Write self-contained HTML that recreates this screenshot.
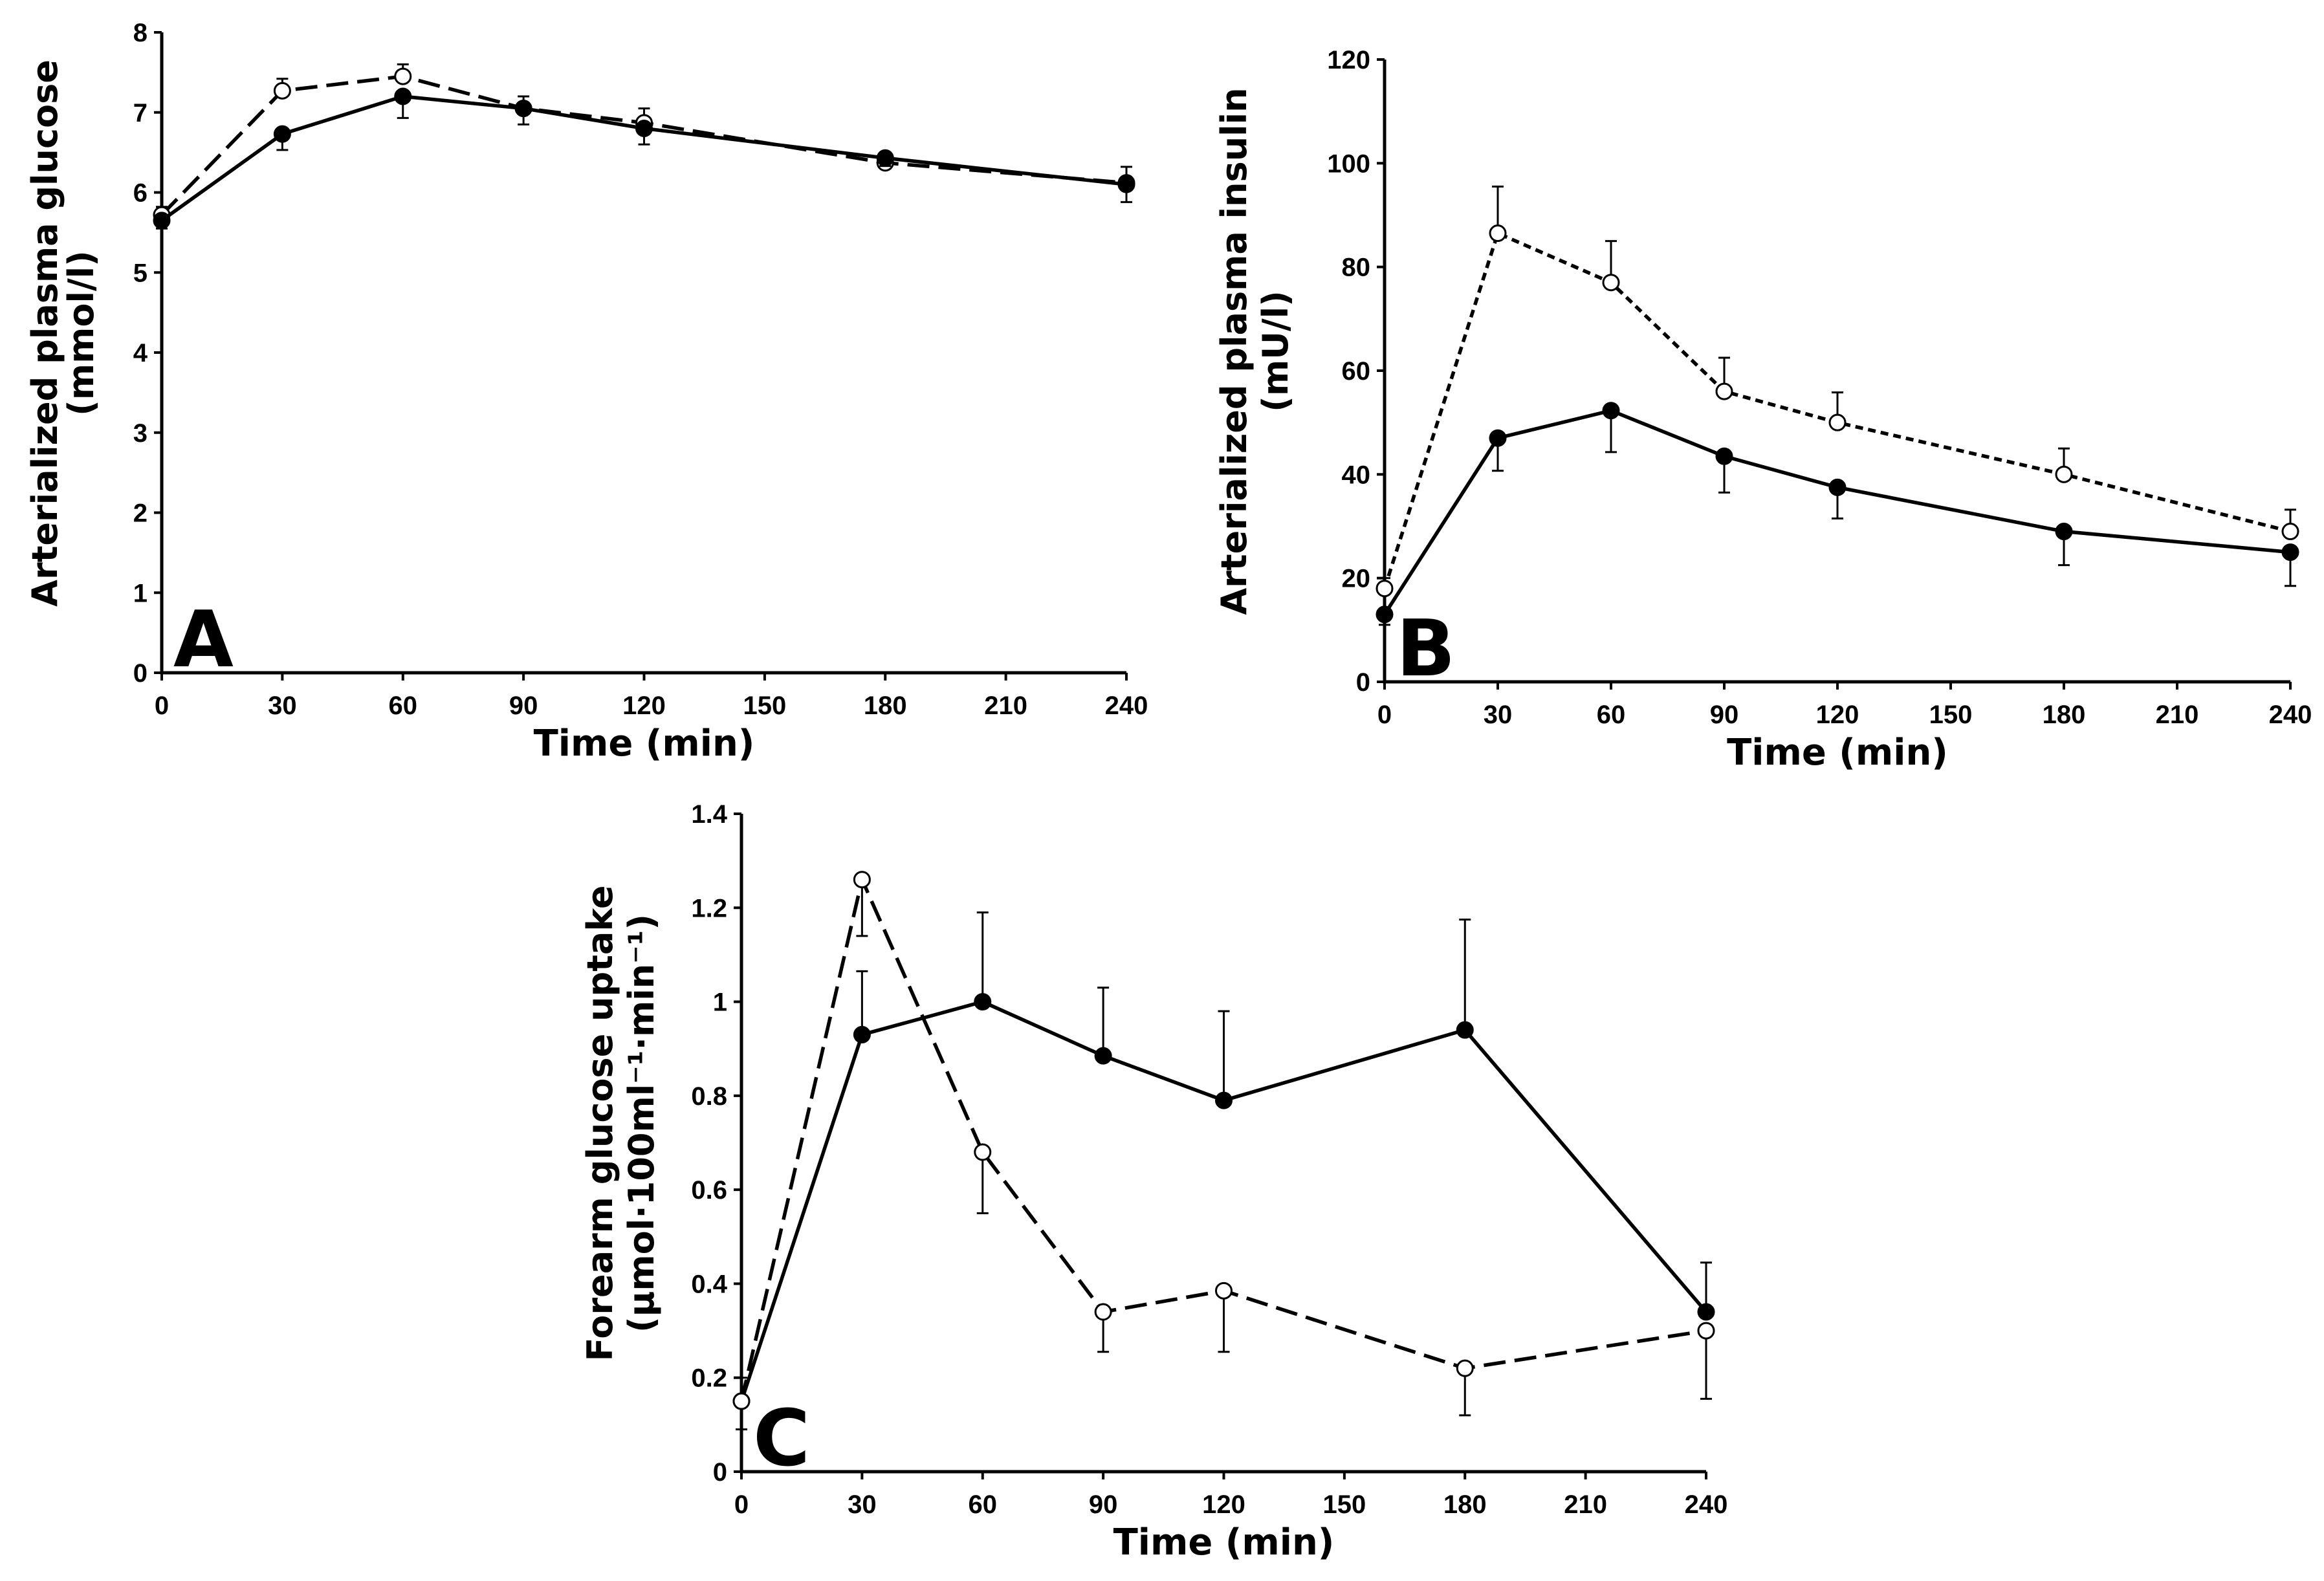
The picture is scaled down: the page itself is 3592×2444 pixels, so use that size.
<!DOCTYPE html>
<html><head><meta charset="utf-8"><style>
html,body{margin:0;padding:0;background:#fff;}
svg{display:block;}
text{font-family:"DejaVu Sans","Liberation Sans",sans-serif;font-weight:bold;fill:#000;}
.tick{font-family:"Liberation Sans",sans-serif;font-size:40px;}
</style></head><body>
<svg id="fig" width="3592" height="2444" viewBox="0 0 3592 2444" xmlns="http://www.w3.org/2000/svg"></svg>
<script>
const times=[0,30,60,90,120,180,240];
const xTicks=[0,30,60,90,120,150,180,210,240];
// Panel A
const aSolid=[5.65,6.73,7.2,7.05,6.8,6.43,6.1];
const aSolidErr=[0.1,0.2,0.27,0.2,0.2,0.1,0.22];
const aOpen=[5.72,7.27,7.45,7.05,6.87,6.37,6.12];
const aOpenErr=[0.1,0.15,0.15,0.15,0.18,0.1,0.2];
const aYTicks=[0,1,2,3,4,5,6,7,8];
// Panel B
const bSolid=[13,47,52.3,43.5,37.5,29,25];
const bSolidErr=[2,6.3,8,7,6,6.5,6.5];
const bOpen=[18,86.5,77,56,50,40,29];
const bOpenErr=[2,9,8,6.5,5.8,5,4.2];
const bYTicks=[0,20,40,60,80,100,120];
// Panel C
const cSolid=[0.15,0.93,1.0,0.885,0.79,0.94,0.34];
const cSolidErr=[0.05,0.135,0.19,0.145,0.19,0.235,0.105];
const cOpen=[0.15,1.26,0.68,0.34,0.385,0.22,0.30];
const cOpenErr=[0.06,0.12,0.13,0.085,0.13,0.1,0.145];
const cYTicks=[0,0.2,0.4,0.6,0.8,1,1.2,1.4];

const NS="http://www.w3.org/2000/svg";
const svg=document.getElementById('fig');
function mk(tag,attrs,parent){const e=document.createElementNS(NS,tag);for(const k in attrs)e.setAttribute(k,attrs[k]);(parent||svg).appendChild(e);return e;}

function panel(p){
  const g=mk('g',{});
  
  
  const X=v=>p.x0+(p.x1-p.x0)*v/240;
  const Y=v=>p.y0+(p.y1-p.y0)*v/p.ymax;
  const ax=mk('path',{d:`M${p.x0},${p.y1} V${p.y0} H${p.x1}`,stroke:'#000','stroke-width':5,fill:'none'},g);
  
  
  p.yt.forEach(v=>{
    mk('line',{x1:p.x0-12,x2:p.x0,y1:Y(v),y2:Y(v),stroke:'#000','stroke-width':4},g);
    const t=mk('text',{x:p.x0-22,y:Y(v)+14,'text-anchor':'end',class:'tick'},g);
    t.textContent=String(v);
    
    
  });
  xTicks.forEach(v=>{
    mk('line',{x1:X(v),x2:X(v),y1:p.y0,y2:p.y0+12,stroke:'#000','stroke-width':4},g);
    const t=mk('text',{x:X(v),y:p.y0+64,'text-anchor':'middle',class:'tick'},g);
    t.textContent=String(v);
    
    
  });
  const xt=mk('text',{x:(p.x0+p.x1)/2,y:p.y0+128,'text-anchor':'middle','font-size':56},g);
  xt.textContent='Time (min)';
  
  
  const cy=(p.y0+p.y1)/2-30;
  p.ytitle.forEach((s,i)=>{
    const lx=p.ylx[i];
    const t=mk('text',{x:lx,y:cy,'text-anchor':'middle','font-size':54,transform:`rotate(-90 ${lx} ${cy})`},g);
    t.textContent=s;
    
    
  });
  const L=mk('text',{x:p.x0+18,y:p.y0-10,'font-size':120,'font-family':'Liberation Sans'},g);
  L.textContent=p.letter;
  
  
  function series(vals,errs,dir,dash,fill,nm){
    errs.forEach((e,i)=>{
      const v=vals[i], ye=Y(v+dir*e);
      mk('line',{x1:X(times[i]),x2:X(times[i]),y1:Y(v),y2:ye,stroke:'#000','stroke-width':3},g);
      mk('line',{x1:X(times[i])-9,x2:X(times[i])+9,y1:ye,y2:ye,stroke:'#000','stroke-width':3},g);
    });
    const pl=mk('polyline',{points:vals.map((v,i)=>X(times[i])+','+Y(v)).join(' '),fill:'none',stroke:'#000','stroke-width':5.5,'stroke-dasharray':dash},g);
    
    
    vals.forEach((v,i)=>{
      const c=mk('circle',{cx:X(times[i]),cy:Y(v),r:12,fill:fill,stroke:'#000','stroke-width':3},g);
      
      
    });
  }
  if(p.openFirst){
    series(p.open,p.openErr,p.openDir,p.dash,'#fff','open-series');
    series(p.solid,p.solidErr,p.solidDir,'none','#000','solid-series');
  } else {
    series(p.solid,p.solidErr,p.solidDir,'none','#000','solid-series');
    series(p.open,p.openErr,p.openDir,p.dash,'#fff','open-series');
  }
}
panel({name:'panel-a',letter:'A',x0:250,x1:1741,y0:1040,y1:50,ymax:8,yt:aYTicks,openFirst:true,
  ytitle:['Arterialized plasma glucose','(mmol/l)'],ylx:[88,144],
  solid:aSolid,solidErr:aSolidErr,solidDir:-1,open:aOpen,openErr:aOpenErr,openDir:1,dash:'34 14'});
panel({name:'panel-b',letter:'B',x0:2140,x1:3540,y0:1054,y1:92,ymax:120,yt:bYTicks,openFirst:true,
  ytitle:['Arterialized plasma insulin','(mU/l)'],ylx:[1926,1990],
  solid:bSolid,solidErr:bSolidErr,solidDir:-1,open:bOpen,openErr:bOpenErr,openDir:1,dash:'12 8'});
panel({name:'panel-c',letter:'C',x0:1146,x1:2637,y0:2275,y1:1258,ymax:1.4,yt:cYTicks,openFirst:false,
  ytitle:['Forearm glucose uptake','(µmol·100ml⁻¹·min⁻¹)'],ylx:[946,1010],
  solid:cSolid,solidErr:cSolidErr,solidDir:1,open:cOpen,openErr:cOpenErr,openDir:-1,dash:'34 14'});
</script>
</body></html>
